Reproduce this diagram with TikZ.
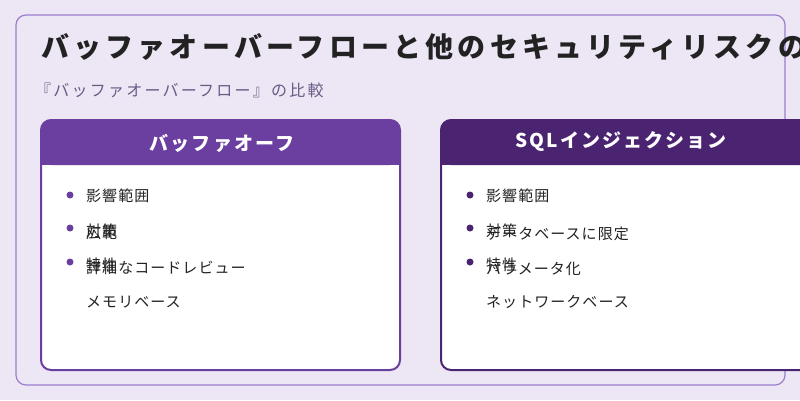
\documentclass[tikz,border=0pt]{standalone}
\usepackage{fontspec}
\setmainfont{Noto Sans CJK JP}
\definecolor{bg}{HTML}{EDE6F4}
\definecolor{frame}{HTML}{9B7FCF}
\definecolor{pa}{HTML}{6B3FA0}
\definecolor{pb}{HTML}{4A2470}
\definecolor{ink}{HTML}{222222}
\definecolor{sub}{HTML}{6A5A85}
\begin{document}
\begin{tikzpicture}[x=1pt,y=-1pt,
  item/.style={anchor=west,inner sep=0pt,font=\fontsize{15}{18}\selectfont\addfontfeature{LetterSpace=7},text=ink},
  hdr/.style={font=\bfseries\fontsize{19}{22}\selectfont\addfontfeature{LetterSpace=11},text=white}]
\useasboundingbox (0,0) rectangle (800,400);
\fill[bg] (0,0) rectangle (800,400);
\draw[frame,line width=1.2pt,rounded corners=10pt] (16,15) rectangle (785,385);
\node[anchor=west,inner sep=0pt,font=\bfseries\fontsize{28}{32}\selectfont\addfontfeature{LetterSpace=15},text=ink] (title) at (41,47) {バッファオーバーフローと他のセキュリティリスクの比較};
\node[anchor=west,inner sep=0pt,font=\fontsize{16}{19}\selectfont\addfontfeature{LetterSpace=14},text=sub] (subt) at (35,90) {『バッファオーバーフロー』の比較};
% left card
\fill[white,rounded corners=10pt] (41,120) rectangle (400,370);
\fill[pa,rounded corners=10pt] (41,120) rectangle (400,165);
\fill[pa] (41,150) rectangle (400,165);
\draw[pa,line width=2pt,rounded corners=10pt] (41,120) rectangle (400,370);
\node[hdr] (lh) at (222,143) {バッファオーフ};
\foreach \y in {195,228,262} \fill[pa] (70,\y) circle (3.5);
\node[item] (l1) at (86,196) {影響範囲};
\node[item] (l2a) at (86,233) {広範};
\node[item] (l2b) at (86,231) {対策};
\node[item] (l3a) at (86,268) {詳細なコードレビュー};
\node[item] (l3b) at (86,265) {特性};
\node[item] (l4) at (86,302) {メモリベース};
% right card
\fill[white,rounded corners=10pt] (441,120) rectangle (810,370);
\fill[pb,rounded corners=10pt] (441,120) rectangle (810,165);
\fill[pb] (441,150) rectangle (810,165);
\draw[pb,line width=2pt,rounded corners=10pt] (441,120) rectangle (810,370);
\node[hdr] (rh) at (621,142) {SQLインジェクション};
\foreach \y in {195,228,262} \fill[pb] (470,\y) circle (3.5);
\node[item] (r1) at (486,196) {影響範囲};
\node[item] (r2a) at (486,234) {データベースに限定};
\node[item] (r2b) at (486,231) {対策};
\node[item] (r3a) at (486,269) {パラメータ化};
\node[item] (r3b) at (486,265) {特性};
\node[item] (r4) at (486,302) {ネットワークベース};
\end{tikzpicture}
\end{document}
